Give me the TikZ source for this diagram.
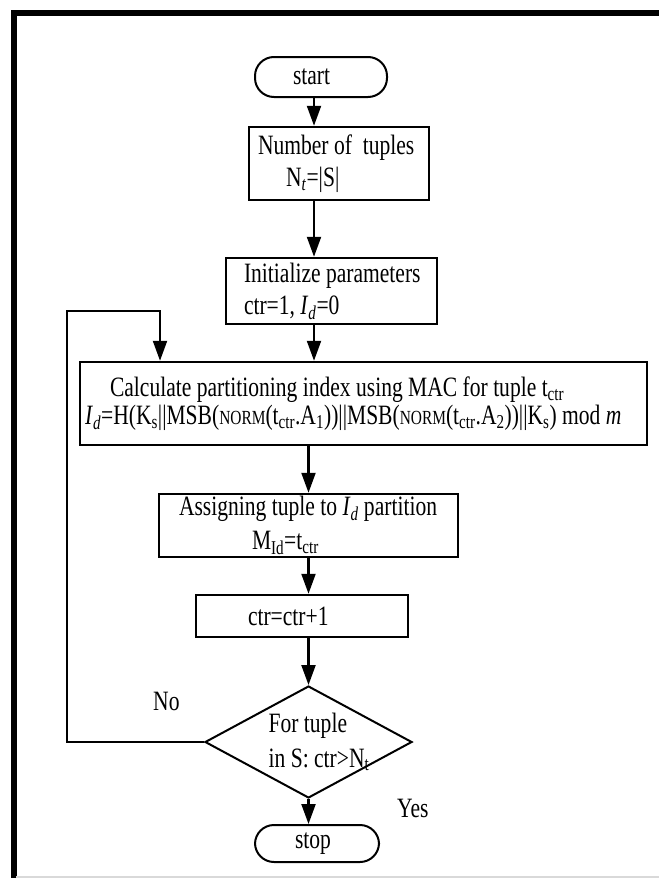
\documentclass[tikz,border=0pt]{standalone}
\usepackage{fontspec}
\setmainfont{Liberation Serif}[FakeStretch=0.77]
\usepackage{tikz}
\usetikzlibrary{arrows.meta,shapes.geometric}
\newcommand{\Id}{\textit{I}\textsubscript{\textit{d}}}
\newcommand{\tctr}{t\textsubscript{ctr}}
\newcommand{\smallcap}[1]{{\fontsize{20pt}{20pt}\selectfont #1}}
\tikzset{
    flow-font/.style = {font=\fontsize{28pt}{32pt}\selectfont, execute at begin node={\spaceskip=0pt\xspaceskip=0pt\relax}},
    flow-box/.style = {draw, line width=2.5pt, rectangle, align=left, inner ysep=0pt, flow-font},
    flow-term/.style = {draw, line width=2pt, rectangle, rounded corners=19pt, align=left, inner ysep=0pt, flow-font},
    flow-test/.style = {draw, line width=2pt, diamond, inner sep=-30pt, align=left, minimum width=207pt, minimum height=112pt, flow-font},
    flow-arrow/.style = {-{Triangle[length=20pt,width=14pt]}, line width=2.2pt},
    flow-label/.style = {anchor=base west, inner sep=0pt, flow-font},
}
\begin{document}
\begin{tikzpicture}[x=1pt,y=-1pt]
\useasboundingbox (0,0) rectangle (659,878);
\draw[line width=6pt] (13.5,878) -- (13.5,13) -- (659,13);
\draw[gray!30, line width=1.5pt] (16,877) -- (659,877);

\node[flow-term, minimum width=132pt, minimum height=40pt, inner xsep=38pt, text width=56pt] (start) at (321,77) {start};
\node[flow-box, minimum height=73pt, inner xsep=9pt, text width=162pt] (num) at (339,163.5)
    {\mbox{Number of\ \ tuples}\\\hspace*{28pt}N\textsubscript{\textit{t}}=|S|};
\node[flow-box, minimum height=66pt, inner xsep=18pt, text width=175pt] (init) at (331.5,291)
    {\mbox{Initialize parameters}\\ctr=1, \Id=0};
\node[flow-box, minimum height=83pt, inner xsep=5pt, text width=557pt, font=\fontsize{28pt}{28pt}\selectfont] (calc) at (363.5,403.5)
    {\mbox{\hspace*{25pt}Calculate partitioning index using MAC for tuple \tctr}\\
     \mbox{\Id=H(K\textsubscript{s}||MSB(\smallcap{NORM}(\tctr.A\textsubscript{1}))||MSB(\smallcap{NORM}(\tctr.A\textsubscript{2}))||K\textsubscript{s}) mod \textit{m}}};
\node[flow-box, minimum height=63pt, inner xsep=20pt, text width=259pt, font=\fontsize{28pt}{34pt}\selectfont] (assign) at (308.5,525.5)
    {\mbox{Assigning tuple to \Id\ partition}\\\hspace*{73pt}M\textsubscript{Id}=\tctr};
\node[flow-box, minimum height=42pt, inner xsep=52pt, text width=108pt] (count) at (302,616) {\mbox{ctr=ctr+1}};
\node[flow-test, font=\fontsize{28pt}{35pt}\selectfont] (test) at (308.5,742)
    {\hspace*{21pt}For tuple\\\hspace*{21pt}in S: ctr>N\textsubscript{t}};
\node[flow-term, minimum width=124pt, minimum height=37pt, inner xsep=40pt, text width=44pt] (stop) at (317,843.5) {stop};

\node[flow-label] (no) at (153,710) {No};
\node[flow-label] (yes) at (397,817) {Yes};

\coordinate (col-a) at (314,0);
\coordinate (col-b) at (308.5,0);
\coordinate (loop-top) at (67,311);
\coordinate (loop-in) at (160,311);

\draw[flow-arrow] (start.south -| col-a) -- (num.north -| col-a);
\draw[flow-arrow] (num.south -| col-a) -- (init.north -| col-a);
\draw[flow-arrow] (init.south -| col-a) -- (calc.north -| col-a);
\draw[flow-arrow] (calc.south -| col-b) -- (assign.north -| col-b);
\draw[flow-arrow] (assign.south -| col-b) -- (count.north -| col-b);
\draw[flow-arrow] (count.south -| col-b) -- (test.north);
\draw[flow-arrow] (test.south) -- (stop.north -| test.south);
\draw[flow-arrow] (test.west) -| (loop-top) -- (loop-in) -- (loop-in |- calc.north);
\end{tikzpicture}
\end{document}
